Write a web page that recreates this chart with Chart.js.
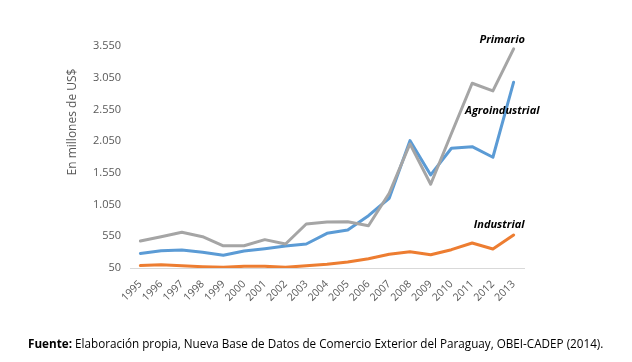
<!DOCTYPE html>
<html>
<head>
<meta charset="utf-8">
<script src="https://cdn.jsdelivr.net/npm/chart.js@4"></script>
<style>
  body { margin: 0; background: #fff; }
  #wrap { position: relative; width: 632px; height: 362px; }
  #note {
    position: absolute; left: 28px; top: 335px;
    font-family: "Open Sans", sans-serif; font-size: 11.7px; color: #000;
    white-space: nowrap;
  }
</style>
</head>
<body>
<div id="wrap">
  <canvas id="chart" width="632" height="362"></canvas>
  <div id="note"><b>Fuente:</b> Elaboración propia, Nueva Base de Datos de Comercio Exterior del Paraguay, OBEI-CADEP (2014).</div>
</div>
<script>
// Data
const years = ["1995", "1996", "1997", "1998", "1999", "2000", "2001", "2002", "2003", "2004",
  "2005", "2006", "2007", "2008", "2009", "2010", "2011", "2012", "2013"];
const primario = [476, 544, 613, 544, 400, 400, 497, 429, 744, 775,
  780, 717, 1228, 2006, 1370, 2170, 2963, 2842, 3504];
const agroindustrial = [280, 323, 334, 297, 250, 318, 354, 397, 428, 597,
  649, 875, 1150, 2058, 1517, 1938, 1963, 1796, 2979];
const industrial = [88, 102, 86, 70, 60, 76, 76, 60, 86, 110,
  145, 197, 266, 307, 260, 339, 444, 350, 570];
const yTicks = [50, 550, 1050, 1550, 2050, 2550, 3050, 3550];

// Series labels next to the lines: [text, category index, value]
const seriesLabels = [
  ["Primario", 17.45, 3640],
  ["Agroindustrial", 17.45, 2530],
  ["Industrial", 17.3, 730],
];

const textColor = "#595959";

const labelPlugin = {
  id: "labels",
  afterDraw(chart) {
    const ctx = chart.ctx;
    const x = chart.scales.x;
    const y = chart.scales.y;
    ctx.save();
    ctx.fillStyle = "#000";
    ctx.font = "italic bold 11px 'Open Sans', sans-serif";
    ctx.textAlign = "center";
    ctx.textBaseline = "middle";
    seriesLabels.forEach(([t, i, v]) => {
      ctx.fillText(t, x.getPixelForValue(i), y.getPixelForValue(v));
    });
    // y axis title
    ctx.translate(73, 122);
    ctx.rotate(-Math.PI / 2);
    ctx.fillStyle = textColor;
    ctx.font = "12px 'Open Sans', sans-serif";
    ctx.fillText("En millones de US$", 0, 0);
    ctx.restore();
  },
};

new Chart(document.getElementById("chart"), {
  type: "line",
  data: {
    labels: years,
    datasets: [
      { label: "Primario", data: primario, borderColor: "#A5A5A5" },
      { label: "Agroindustrial", data: agroindustrial, borderColor: "#5B9BD5" },
      { label: "Industrial", data: industrial, borderColor: "#ED7D31" },
    ],
  },
  options: {
    responsive: false,
    animation: false,
    layout: { padding: { left: 0, right: 108, top: 46, bottom: 34 } },
    elements: {
      line: { borderWidth: 3, tension: 0, borderCapStyle: "round", borderJoinStyle: "round" },
      point: { radius: 0 },
    },
    plugins: { legend: { display: false }, tooltip: { enabled: false } },
    scales: {
      x: {
        offset: true,
        grid: { display: false, drawTicks: false },
        border: { color: "#D9D9D9", width: 1 },
        ticks: {
          color: textColor,
          font: { family: "'Open Sans', sans-serif", size: 10.5 },
          minRotation: 45,
          maxRotation: 45,
          autoSkip: false,
          padding: 10,
        },
        afterFit(scale) { scale.height = 60; },
      },
      y: {
        min: 50,
        max: 3550,
        grid: { display: false, drawTicks: false },
        border: { display: false },
        afterBuildTicks(scale) { scale.ticks = yTicks.map((v) => ({ value: v })); },
        ticks: {
          color: textColor,
          font: { family: "'Open Sans', sans-serif", size: 11 },
          padding: 9,
          callback: (v) => v.toLocaleString("de-DE"),
        },
        afterFit(scale) { scale.width = 130; },
      },
    },
  },
  plugins: [labelPlugin],
});
</script>
</body>
</html>
